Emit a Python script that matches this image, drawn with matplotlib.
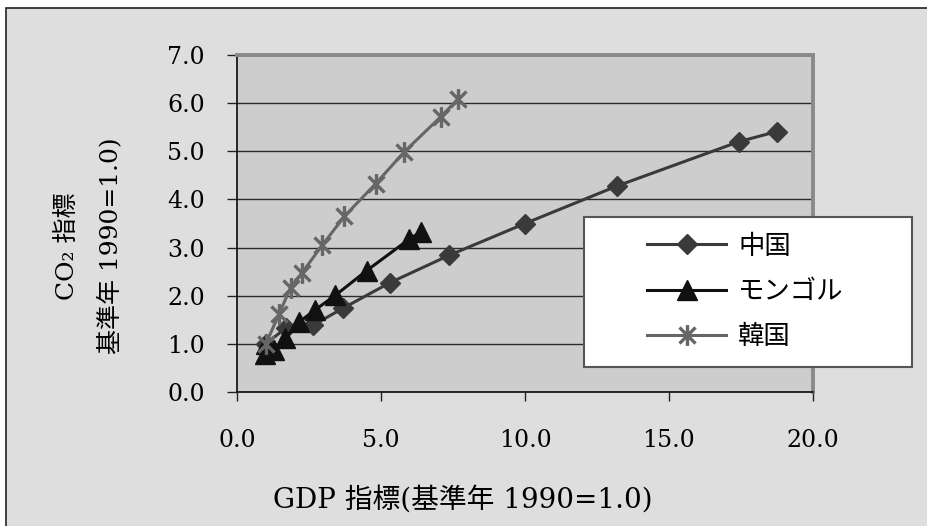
import numpy as np
import matplotlib.pyplot as plt
from matplotlib.path import Path
from matplotlib.patches import Rectangle

# values (GDP index, CO2 index; 1990 = 1.0)
china_gdp = [1.0, 1.7, 2.65, 3.68, 5.31, 7.37, 10.0, 13.2, 17.43, 18.74]
china_co2 = [1.0, 1.33, 1.39, 1.74, 2.27, 2.84, 3.5, 4.28, 5.2, 5.41]

mongol_gdp = [1.0, 0.98, 1.3, 1.68, 2.15, 2.7, 3.42, 4.5, 5.97, 6.39]
mongol_co2 = [1.0, 0.78, 0.88, 1.12, 1.45, 1.7, 2.01, 2.52, 3.17, 3.33]

korea_gdp = [1.0, 1.47, 1.86, 2.25, 2.96, 3.73, 4.82, 5.81, 7.08, 7.66]
korea_co2 = [1.0, 1.63, 2.17, 2.47, 3.05, 3.65, 4.33, 4.99, 5.72, 6.08]

labels = ['中国', 'モンゴル', '韓国']
x_ticks = [0, 5, 10, 15, 20]
y_ticks = [0, 1, 2, 3, 4, 5, 6, 7]

serif = ['DejaVu Serif', 'Noto Sans CJK JP']
cjk = ['Noto Sans CJK JP', 'DejaVu Serif']

W, H = 928, 526
fig = plt.figure(figsize=(W / 100, H / 100), dpi=100, facecolor='white')

# outer frame of the chart
fig.patches.append(Rectangle((6 / W, -0.1), 2, 1 - 8 / H + 0.1, transform=fig.transFigure,
                             facecolor='#dedede', edgecolor='#222222', linewidth=1.2, zorder=-5))

ax = fig.add_axes([237 / W, 1 - 392 / H, (813 - 237) / W, (392 - 55) / H])
ax.set_facecolor('#cdcdcd')

# excel-like asterisk marker: an x plus a vertical bar
star = Path([(-1, -1), (1, 1), (-1, 1), (1, -1), (0, -1.3), (0, 1.3)],
            [Path.MOVETO, Path.LINETO, Path.MOVETO, Path.LINETO, Path.MOVETO, Path.LINETO])

l1, = ax.plot(china_gdp, china_co2, color='#3a3a3a', lw=2.2, marker='D', ms=10,
              mfc='#3a3a3a', mec='#3a3a3a', zorder=3)
l2, = ax.plot(mongol_gdp, mongol_co2, color='#111111', lw=2.2, marker='^', ms=14,
              mfc='#111111', mec='#111111', zorder=3)
l3, = ax.plot(korea_gdp, korea_co2, color='#666666', lw=2.2, marker=star, ms=15,
              mfc='none', mec='#666666', mew=2.4, zorder=4)

ax.set_xlim(0, 20)
ax.set_ylim(0, 7)
ax.set_xticks(x_ticks)
ax.set_yticks(y_ticks)
ax.set_xticklabels(['%.1f' % v for v in x_ticks], family=serif, fontsize=17)
ax.set_yticklabels(['%.1f' % v for v in y_ticks], family=serif, fontsize=17)
ax.tick_params(axis='y', direction='out', length=7, width=1, pad=16, color='#222222')
ax.tick_params(axis='x', direction='out', length=6.5, width=1, pad=20, color='#222222')

ax.yaxis.grid(True, color='#2a2a2a', lw=1.0)
ax.set_axisbelow(True)

for s in ['top', 'right']:
    ax.spines[s].set_color('#8a8a8a')
    ax.spines[s].set_linewidth(2.8)
for s in ['left', 'bottom']:
    ax.spines[s].set_color('#1a1a1a')
    ax.spines[s].set_linewidth(1.3)

# axis titles
fig.text(463 / W, 1 - 500 / H, 'GDP 指標(基準年 1990=1.0)', family=serif, fontsize=20,
         ha='center', va='center')
fig.text(67 / W, 1 - 246 / H, 'CO₂ 指標', family=serif, fontsize=18, rotation=90,
         ha='center', va='center')
fig.text(110 / W, 1 - 246 / H, '基準年 1990=1.0)', family=serif, fontsize=18, rotation=90,
         ha='center', va='center')

# legend box sticks out of the plot area
fig.patches.append(Rectangle((584 / W, 1 - 367 / H), (912 - 584) / W, (367 - 217) / H,
                             transform=fig.transFigure, facecolor='white',
                             edgecolor='#555555', linewidth=1.5, zorder=4))
fig.legend([l1, l2, l3], labels, loc='center left', bbox_to_anchor=(647 / W, 1 - 291.5 / H),
           frameon=False, borderpad=0, borderaxespad=0, handlelength=3.0, handletextpad=0.45,
           labelspacing=0.7, prop={'family': cjk, 'size': 19}).set_zorder(6)

fig.savefig('out.png', dpi=100, facecolor='white')
